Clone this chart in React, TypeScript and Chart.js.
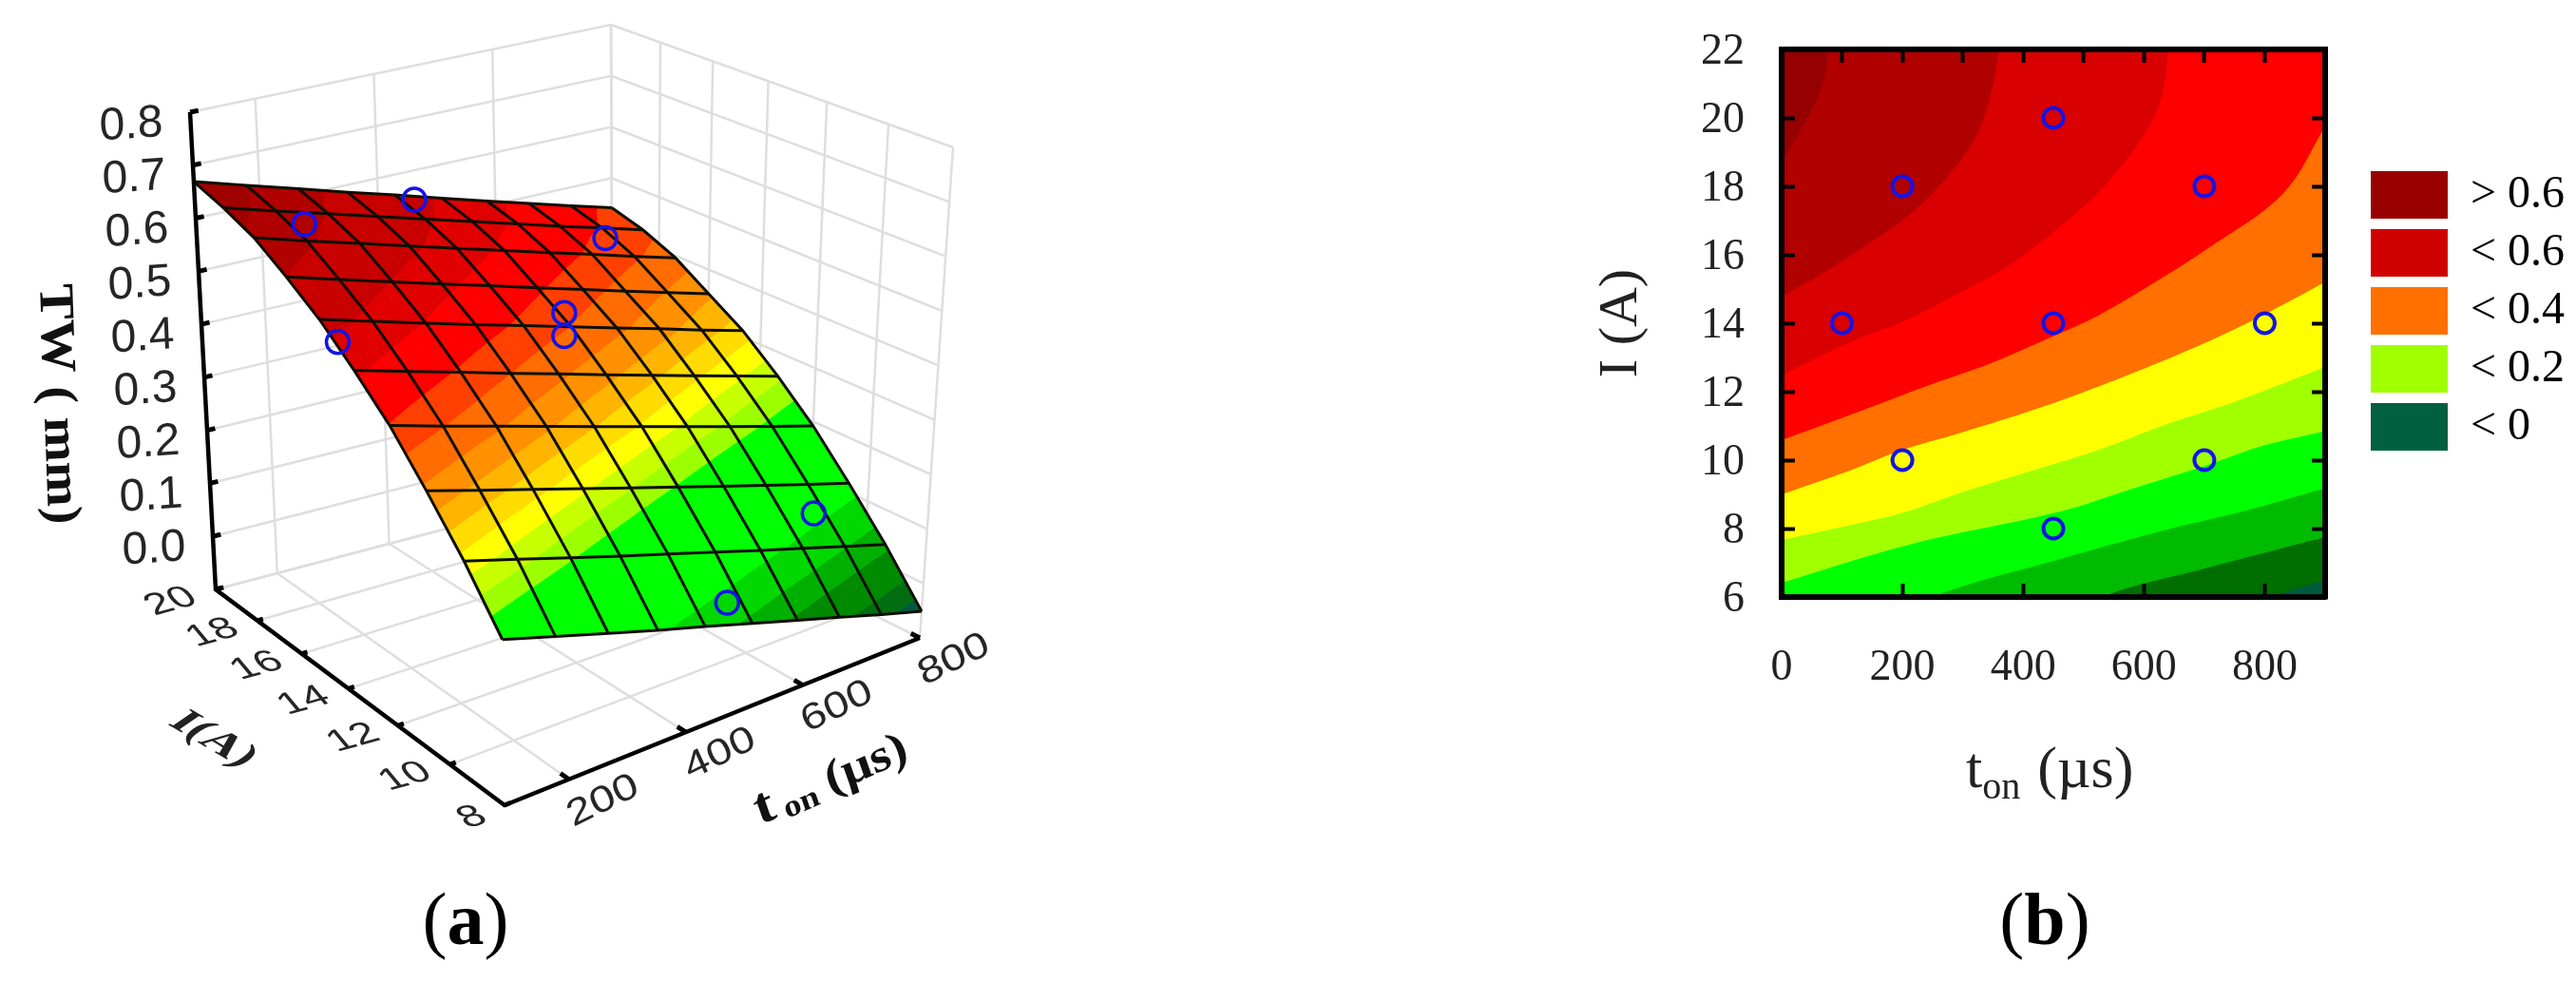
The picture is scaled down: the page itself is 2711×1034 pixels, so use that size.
import React, { useEffect, useRef } from "react";
import { Chart, registerables } from "chart.js";

Chart.register(...registerables);

const SERIF = "'Liberation Serif', serif";
const SANS = "'Liberation Sans', sans-serif";

// ---------- panel (a): surface ----------
const tColumns = [90, 178, 266, 349, 429, 509, 586, 658, 730, 800];
const iRows = [20, 18.67, 17.33, 16, 14.67, 13.33, 12, 10.67, 9.33, 8];
const twRow0 = [0.669, 0.641, 0.613, 0.586, 0.561, 0.535, 0.51, 0.487, 0.464, 0.442];
const twRow1 = [0.655, 0.626, 0.598, 0.571, 0.545, 0.519, 0.494, 0.47, 0.447, 0.424];
const twRow2 = [0.635, 0.605, 0.576, 0.548, 0.521, 0.494, 0.468, 0.444, 0.419, 0.396];
const twRow3 = [0.6, 0.569, 0.539, 0.51, 0.483, 0.455, 0.428, 0.403, 0.378, 0.354];
const twRow4 = [0.56, 0.529, 0.498, 0.469, 0.442, 0.414, 0.387, 0.362, 0.336, 0.312];
const twRow5 = [0.507, 0.476, 0.445, 0.415, 0.387, 0.358, 0.331, 0.305, 0.28, 0.255];
const twRow6 = [0.448, 0.416, 0.385, 0.355, 0.326, 0.297, 0.269, 0.243, 0.217, 0.192];
const twRow7 = [0.373, 0.341, 0.31, 0.28, 0.251, 0.222, 0.194, 0.168, 0.142, 0.117];
const twRow8 = [0.291, 0.26, 0.228, 0.198, 0.17, 0.141, 0.113, 0.088, 0.062, 0.037];
const twRow9 = [0.197, 0.166, 0.135, 0.106, 0.079, 0.051, 0.024, -0.001, -0.027, -0.051];
const twGrid = [twRow0, twRow1, twRow2, twRow3, twRow4, twRow5, twRow6, twRow7, twRow8, twRow9];

const surfaceLevels = [9, 0.64, 0.6, 0.54, 0.5, 0.45, 0.415, 0.38, 0.35, 0.325, 0.3, 0.275, 0.25, 0.225, 0.1, 0.06, 0.03, -0.01, -0.035, -9];
const surfaceColors = ["#A00000", "#B00000", "#C80000", "#E00000", "#FF0000", "#FF4000", "#FF6C00", "#FF9000", "#FFB400", "#FFDC00", "#FFFF00", "#C8FF00", "#9CFF00", "#00FF00", "#00D800", "#00B000", "#008A00", "#006E10", "#005A40"];

const sampleT = [200, 462, 708, 468, 468, 92, 708, 465];
const sampleI = [18, 20, 18, 14, 14, 14, 10, 8];
const sampleTW = [0.613, 0.544, 0.447, 0.47, 0.427, 0.538, 0.114, 0.107];

const zTicks = [0.8, 0.7, 0.6, 0.5, 0.4, 0.3, 0.2, 0.1, 0.0];
const zGrid = [0.8, 0.7, 0.6, 0.5, 0.4, 0.3, 0.2, 0.1, 0.0, -0.1];
const iTicks = [20, 18, 16, 14, 12, 10, 8];
const tTicks = [200, 400, 600, 800];

const T_MIN = 90, T_MAX = 800, I_MIN = 8, I_MAX = 20, Z_MIN = -0.1, Z_MAX = 0.8;
// screen positions of the eight corners of the 3D box: the camera of panel (a)
const floorFarLeft = [227, 620], floorNear = [531, 847], floorRight = [968, 671], floorFar = [645, 510];
const topFarLeft = [200, 118], topNear = [524, 319], topRight = [1003, 155], topFar = [643, 26];

function project(t: number, I: number, z: number) {
  const tf = (t - T_MIN) / (T_MAX - T_MIN);
  const s = (I_MAX - I) / (I_MAX - I_MIN);
  const w = s * (1 - 0.16 * (1 - s));
  const zf = (z - Z_MIN) / (Z_MAX - Z_MIN);
  const mix = (a: number[], b: number[], c: number[], d: number[], k: number) =>
    (1 - w) * (1 - tf) * a[k] + w * (1 - tf) * b[k] + w * tf * c[k] + (1 - w) * tf * d[k];
  const fx = mix(floorFarLeft, floorNear, floorRight, floorFar, 0);
  const fy = mix(floorFarLeft, floorNear, floorRight, floorFar, 1);
  const px = mix(topFarLeft, topNear, topRight, topFar, 0);
  const py = mix(topFarLeft, topNear, topRight, topFar, 1);
  return { x: fx + (px - fx) * zf, y: fy + (py - fy) * zf };
}

type V = { t: number; I: number; z: number };
function clip(poly: V[], level: number, keepBelow: boolean) {
  const out: V[] = [];
  for (let i = 0; i < poly.length; i++) {
    const a = poly[i], b = poly[(i + 1) % poly.length];
    const ina = keepBelow ? a.z <= level : a.z >= level;
    const inb = keepBelow ? b.z <= level : b.z >= level;
    if (ina) out.push(a);
    if (ina !== inb) {
      const k = (level - a.z) / (b.z - a.z);
      out.push({ t: a.t + (b.t - a.t) * k, I: a.I + (b.I - a.I) * k, z: level });
    }
  }
  return out;
}

function bandPoints(hi: number, lo: number) {
  const pts: { x: number; y: number }[] = [];
  for (let r = 0; r < iRows.length - 1; r++) {
    for (let c = 0; c < tColumns.length - 1; c++) {
      const v = (rr: number, cc: number): V => ({ t: tColumns[cc], I: iRows[rr], z: twGrid[rr][cc] });
      const tris = [[v(r, c), v(r, c + 1), v(r + 1, c + 1)], [v(r, c), v(r + 1, c + 1), v(r + 1, c)]];
      for (const tri of tris) {
        let p = clip(tri, hi, true);
        if (p.length) p = clip(p, lo, false);
        if (p.length < 3) continue;
        for (const q of p) pts.push(project(q.t, q.I, q.z));
        pts.push(project(p[0].t, p[0].I, p[0].z));
        pts.push({ x: NaN, y: NaN });
      }
    }
  }
  return pts;
}

function seg(data: { x: number; y: number }[], color: string, width: number, order: number) {
  return { data, showLine: true, borderColor: color, borderWidth: width, pointRadius: 0, fill: false, order, tension: 0 };
}

function skewText(ctx: CanvasRenderingContext2D, text: string, x: number, y: number, m: number[], font: string, color: string) {
  ctx.save();
  ctx.transform(m[0], m[1], m[2], m[3], x, y);
  ctx.font = font;
  ctx.fillStyle = color;
  ctx.textAlign = "center";
  ctx.textBaseline = "middle";
  ctx.fillText(text, 0, 0);
  ctx.restore();
}

function caption(ctx: CanvasRenderingContext2D, letter: string, cx: number, base: number) {
  ctx.save();
  ctx.fillStyle = "#000";
  ctx.textBaseline = "alphabetic";
  ctx.textAlign = "left";
  const reg = `78px ${SERIF}`, bold = `bold 78px ${SERIF}`;
  ctx.font = reg;
  const w1 = ctx.measureText("(").width;
  ctx.font = bold;
  const w2 = ctx.measureText(letter).width;
  let x = cx - (2 * w1 + w2) / 2;
  ctx.font = reg;
  ctx.fillText("(", x, base);
  x += w1;
  ctx.font = bold;
  ctx.fillText(letter, x, base);
  x += w2;
  ctx.font = reg;
  ctx.fillText(")", x, base);
  ctx.restore();
}

function Surface3D() {
  const ref = useRef<HTMLCanvasElement>(null);
  useEffect(() => {
    const datasets: any[] = [];
    const wall = "#DEDEDE";
    for (const z of zGrid) {
      datasets.push(seg([project(T_MIN, 20, z), project(T_MAX, 20, z), project(T_MAX, 8, z)], wall, 2.5, 500));
    }
    for (const t of tTicks) {
      datasets.push(seg([project(t, 20, Z_MIN), project(t, 20, Z_MAX)], wall, 2.5, 500));
      datasets.push(seg([project(t, 20, Z_MIN), project(t, 8, Z_MIN)], wall, 2.5, 500));
    }
    for (const I of iTicks) {
      datasets.push(seg([project(T_MAX, I, Z_MIN), project(T_MAX, I, Z_MAX)], wall, 2.5, 500));
      datasets.push(seg([project(T_MIN, I, Z_MIN), project(T_MAX, I, Z_MIN)], wall, 2.5, 500));
    }
    surfaceColors.forEach((color, k) => {
      datasets.push({
        data: bandPoints(surfaceLevels[k], surfaceLevels[k + 1]),
        showLine: true, fill: "shape", backgroundColor: color, borderColor: color, borderWidth: 1,
        pointRadius: 0, order: 400, spanGaps: false, tension: 0,
      });
    });
    iRows.forEach((I, r) => {
      datasets.push(seg(tColumns.map((t, c) => project(t, I, twGrid[r][c])), "#0E0E00", 3, 300));
    });
    tColumns.forEach((t, c) => {
      datasets.push(seg(iRows.map((I, r) => project(t, I, twGrid[r][c])), "#0E0E00", 3, 300));
    });
    datasets.push(seg([project(T_MIN, 20, Z_MAX), project(T_MIN, 20, Z_MIN), project(T_MIN, 8, Z_MIN), project(T_MAX, 8, Z_MIN)], "#000", 4.5, 200));
    for (const z of zGrid) datasets.push(seg([project(T_MIN, 20, z), project(T_MIN + 14, 20, z)], "#000", 5, 200));
    for (const I of iTicks) datasets.push(seg([project(T_MIN, I, Z_MIN), project(T_MIN + 10, I, Z_MIN)], "#000", 5, 200));
    for (const t of tTicks) datasets.push(seg([project(t, 8, Z_MIN), project(t, 8.3, Z_MIN)], "#000", 5, 200));
    datasets.push({
      data: sampleT.map((t, i) => project(t, sampleI[i], sampleTW[i])),
      showLine: false, pointRadius: 12, pointBorderWidth: 3.5, pointBorderColor: "#1414E6",
      pointBackgroundColor: "rgba(0,0,0,0)", order: 100,
    });

    const textPlugin = {
      id: "texts3d",
      afterDraw(chart: any) {
        const ctx = chart.ctx as CanvasRenderingContext2D;
        const zFont = `48px ${SANS}`;
        for (const z of zTicks) {
          const p = project(T_MIN, 20, z);
          skewText(ctx, z.toFixed(1), p.x - 62, p.y + 14, [1, -0.07, 0.04, 1], zFont, "#262626");
        }
        const iFont = `40px ${SANS}`;
        for (const I of iTicks) {
          const p = project(T_MIN, I, Z_MIN);
          skewText(ctx, String(I), p.x - (I === 8 ? 34 : 47), p.y + 13, [1.08, -0.3, 0.6, 0.72], iFont, "#262626");
        }
        const tFont = `42px ${SANS}`;
        for (const t of tTicks) {
          const p = project(t, 8, Z_MIN);
          skewText(ctx, String(t), p.x + 36, p.y + 23, [1.02, -0.5, 0.38, 0.84], tFont, "#262626");
        }
        skewText(ctx, "TW ( mm)", 60, 425, [0.04, 1.08, -1, 0.04], `bold 52px ${SERIF}`, "#111");
        skewText(ctx, "I(A)", 224, 778, [0.88, 0.52, -0.72, 0.5], `bold 50px ${SERIF}`, "#222");
        ctx.save();
        ctx.transform(0.95, -0.42, 0.3, 0.85, 800, 868);
        ctx.fillStyle = "#111";
        ctx.textBaseline = "alphabetic";
        ctx.font = `bold 60px ${SERIF}`;
        ctx.fillText("t", 0, 0);
        let x = ctx.measureText("t").width + 8;
        ctx.font = `bold 36px ${SERIF}`;
        ctx.fillText("on", x, 6);
        x += ctx.measureText("on").width + 12;
        ctx.font = `bold 54px ${SERIF}`;
        ctx.fillText("(µs)", x, 0);
        ctx.restore();
        caption(ctx, "a", 490, 993);
      },
    };

    const chart = new Chart(ref.current as HTMLCanvasElement, {
      type: "scatter",
      data: { datasets },
      options: {
        animation: false, responsive: false, maintainAspectRatio: false,
        layout: { padding: 0, autoPadding: false },
        plugins: { legend: { display: false }, tooltip: { enabled: false } },
        scales: {
          x: { type: "linear", min: 0, max: 1100, display: false },
          y: { type: "linear", min: 0, max: 1034, reverse: true, display: false },
        },
      },
      plugins: [textPlugin],
    } as any);
    return () => chart.destroy();
  }, []);
  return <canvas ref={ref} width={1100} height={1034} style={{ position: "absolute", left: 0, top: 0, filter: "blur(0.7px)" }} />;
}

// ---------- panel (b): contour bands ----------
const band0 = [{ x: 0, y: 22 }, { x: 900, y: 22 }];
const band1 = [{ x: 0, y: 18.7 }, { x: 30, y: 19.6 }, { x: 60, y: 20.6 }, { x: 72, y: 21.3 }, { x: 77, y: 22 }, { x: 80, y: 23 }, { x: 90, y: 25 }, { x: 900, y: 40 }];
const band2 = [{ x: 0, y: 14.78 }, { x: 65, y: 15.43 }, { x: 135, y: 16.22 }, { x: 210, y: 17.15 }, { x: 273, y: 18.26 }, { x: 322, y: 19.47 }, { x: 347, y: 20.76 }, { x: 360, y: 22 }, { x: 366, y: 23 }, { x: 380, y: 25 }, { x: 900, y: 40 }];
const band3 = [{ x: 0, y: 12.48 }, { x: 112, y: 13.44 }, { x: 200, y: 14.04 }, { x: 289, y: 14.83 }, { x: 378, y: 15.71 }, { x: 459, y: 16.8 }, { x: 533, y: 17.98 }, { x: 602, y: 19.56 }, { x: 630, y: 20.67 }, { x: 640, y: 22 }, { x: 646, y: 23 }, { x: 660, y: 25 }, { x: 900, y: 40 }];
const band4 = [{ x: 0, y: 10.58 }, { x: 112, y: 11.31 }, { x: 230, y: 12.1 }, { x: 348, y: 12.84 }, { x: 451, y: 13.63 }, { x: 525, y: 14.23 }, { x: 614, y: 15.15 }, { x: 703, y: 16.15 }, { x: 831, y: 17.8 }, { x: 900, y: 19.75 }];
const band5 = [{ x: 0, y: 9.0 }, { x: 112, y: 9.69 }, { x: 200, y: 10.3 }, { x: 289, y: 10.76 }, { x: 407, y: 11.41 }, { x: 496, y: 11.96 }, { x: 584, y: 12.56 }, { x: 703, y: 13.44 }, { x: 802, y: 14.28 }, { x: 900, y: 15.2 }];
const band6 = [{ x: 0, y: 7.67 }, { x: 100, y: 8.05 }, { x: 200, y: 8.46 }, { x: 289, y: 9.0 }, { x: 407, y: 9.65 }, { x: 525, y: 10.3 }, { x: 643, y: 11.08 }, { x: 762, y: 11.78 }, { x: 900, y: 12.72 }];
const band7 = [{ x: 0, y: 6.42 }, { x: 211, y: 7.53 }, { x: 460, y: 8.49 }, { x: 584, y: 9.18 }, { x: 701, y: 9.83 }, { x: 791, y: 10.39 }, { x: 900, y: 10.85 }];
const band8 = [{ x: 0, y: 4 }, { x: 248, y: 6 }, { x: 459, y: 7.1 }, { x: 645, y: 8.0 }, { x: 762, y: 8.49 }, { x: 900, y: 9.18 }];
const band9 = [{ x: 0, y: 2 }, { x: 530, y: 6 }, { x: 707, y: 6.86 }, { x: 900, y: 7.75 }];
const band10 = [{ x: 0, y: 0 }, { x: 813, y: 6 }, { x: 900, y: 6.5 }];
const contourBands = [band0, band1, band2, band3, band4, band5, band6, band7, band8, band9, band10];
const contourColors = ["#960000", "#B00000", "#D80000", "#FF0000", "#FF7000", "#FFFF00", "#A0FF00", "#00FF00", "#00BB00", "#006E00", "#005A40"];

const pointT = [100, 200, 200, 450, 450, 450, 700, 700, 800];
const pointI = [14, 18, 10, 20, 14, 8, 18, 10, 14];

const legendTexts = ["> 0.6", "< 0.6", "< 0.4", "< 0.2", "< 0"];
const legendColors = ["#990000", "#D00000", "#FF7000", "#A0FF00", "#006040"];

function Contour() {
  const ref = useRef<HTMLCanvasElement>(null);
  useEffect(() => {
    const datasets: any[] = contourBands.map((band, i) => ({
      data: band, showLine: true, fill: "start", backgroundColor: contourColors[i],
      borderWidth: 0, pointRadius: 0, order: 100 - i, tension: 0.35,
    }));
    datasets.push({
      data: pointT.map((t, i) => ({ x: t, y: pointI[i] })),
      showLine: false, pointRadius: 10.5, pointBorderWidth: 4, pointBorderColor: "#1414E6",
      pointBackgroundColor: "rgba(0,0,0,0)", order: 1,
    });

    const plug = {
      id: "contourText",
      afterLayout(chart: any) {
        const l = chart.legend;
        if (!l) return;
        l.left = 2494 - 1650 - 10;
        l.top = 179 - 10;
        l.right = l.left + 240;
        l.width = 240;
        l.bottom = l.top + 330;
        l.height = 330;
      },
      afterDraw(chart: any) {
        const ctx = chart.ctx as CanvasRenderingContext2D;
        ctx.save();
        ctx.fillStyle = "#222";
        ctx.textBaseline = "alphabetic";
        const x0 = 2069 - 1650;
        ctx.font = `62px ${SERIF}`;
        ctx.fillText("t", x0, 828);
        let x = x0 + ctx.measureText("t").width;
        ctx.font = `40px ${SERIF}`;
        ctx.fillText("on", x, 840);
        x += ctx.measureText("on").width + 18;
        ctx.font = `62px ${SERIF}`;
        ctx.fillText("(µs)", x, 828);
        ctx.restore();
        caption(ctx, "b", 2152 - 1650, 993);
      },
    };

    const inward = { drawOnChartArea: false, tickLength: -14, tickWidth: 4, tickColor: "#000", z: 1 };
    const border = { color: "#000", width: 6, z: 1 };
    const noOverhang = (s: any) => { s.paddingLeft = 0; s.paddingRight = 0; s.paddingTop = 0; s.paddingBottom = 0; };
    const chart = new Chart(ref.current as HTMLCanvasElement, {
      type: "scatter",
      data: { datasets },
      options: {
        animation: false, responsive: false, maintainAspectRatio: false,
        layout: { padding: 0, autoPadding: false },
        plugins: {
          tooltip: { enabled: false },
          legend: {
            position: "chartArea", align: "start",
            labels: {
              boxWidth: 81, boxHeight: 50, padding: 11, color: "#222",
              font: { family: SERIF, size: 48 },
              generateLabels: () => legendTexts.map((text, i) => ({
                text, fillStyle: legendColors[i], strokeStyle: legendColors[i], lineWidth: 0, hidden: false, index: i,
              })),
            },
          },
        },
        scales: {
          x: {
            type: "linear", position: "bottom", min: 0, max: 900, grid: inward, border,
            ticks: { stepSize: 200, includeBounds: false, padding: 61, maxRotation: 0, autoSkip: false, color: "#222", font: { family: SERIF, size: 46 } },
            afterFit: (s: any) => { s.height = 1034 - 628; noOverhang(s); },
          },
          x2: {
            type: "linear", position: "top", min: 0, max: 900, grid: inward, border,
            ticks: { stepSize: 100, display: false, autoSkip: false },
            afterFit: (s: any) => { s.height = 52; noOverhang(s); },
          },
          y: {
            type: "linear", position: "left", min: 6, max: 22, grid: inward, border,
            ticks: { stepSize: 2, padding: 53, labelOffset: 3, autoSkip: false, color: "#222", font: { family: SERIF, size: 46 } },
            title: { display: true, text: "I (A)", color: "#222", font: { family: SERIF, size: 58 }, padding: { top: 22, bottom: 0 } },
            afterFit: (s: any) => { s.width = 225; noOverhang(s); },
          },
          y2: {
            type: "linear", position: "right", min: 6, max: 22, grid: inward, border,
            ticks: { stepSize: 2, display: false, autoSkip: false },
            afterFit: (s: any) => { s.width = 1061 - 797; noOverhang(s); },
          },
        },
      },
      plugins: [plug],
    } as any);
    return () => chart.destroy();
  }, []);
  return <canvas ref={ref} width={1061} height={1034} style={{ position: "absolute", left: 1650, top: 0, filter: "blur(0.7px)" }} />;
}

export default function App() {
  return (
    <div style={{ position: "fixed", left: 0, top: 0, width: 2711, height: 1034, background: "#fff", overflow: "hidden" }}>
      <Surface3D />
      <Contour />
    </div>
  );
}
